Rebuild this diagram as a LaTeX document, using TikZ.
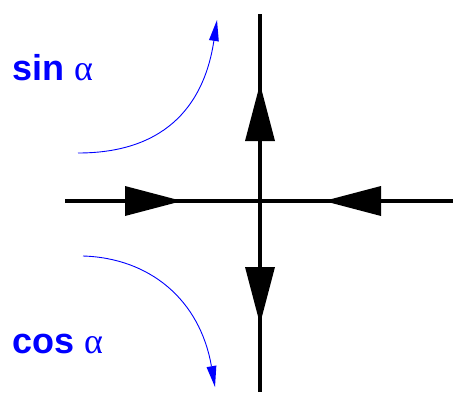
\documentclass[tikz,border=0pt]{standalone}
\usepackage{fontspec}
\setsansfont{Liberation Sans}
\newfontfamily\greekfont{Liberation Serif}
\usepackage{tikz}
\usetikzlibrary{arrows.meta}

\tikzset{
  axis/.style={line width=3.6pt},
  bigtip/.style={line width=3.6pt, -{Triangle[length=57pt, width=30pt, line width=0pt]}},
  turn/.style={blue, line width=0.9pt, -{Triangle[length=21pt, width=10pt, line width=0pt]}},
  lbl/.style={blue, anchor=base west, inner sep=0pt, font=\fontsize{36}{40}\selectfont}
}

\begin{document}
\begin{tikzpicture}[x=1pt, y=-1pt]
  \useasboundingbox (0,0) rectangle (453,392);

  \coordinate (O) at (260,201);
  \coordinate (L) at (65,201);
  \coordinate (R) at (453,201);
  \coordinate (T) at (260,14);
  \coordinate (B) at (260,392);
  % arrow tips on the axes
  \coordinate (tl) at (182,201);
  \coordinate (tr) at (324,201);
  \coordinate (tu) at (260,84);
  \coordinate (td) at (260,324);

  \draw[axis] (L) -- (R);
  \draw[axis] (T) -- (B);
  \foreach \a/\b in {L/tl, R/tr, O/tu, O/td}
    \draw[bigtip] (\a) -- (\b);

  \node (sin) [lbl] at (12,80)  {\sffamily\bfseries sin {\mdseries\greekfont α}};
  \node (cos) [lbl] at (12,353) {\sffamily\bfseries cos {\mdseries\greekfont α}};

  \coordinate (s0) at (78,153);
  \coordinate (s1) at (217,20);
  \coordinate (c0) at (83,256);
  \coordinate (c1) at (215,387);
  \draw[turn] (s0) .. controls (170,153) and (205,100) .. (s1);
  \draw[turn] (c0) .. controls (150,258) and (200,300) .. (c1);
\end{tikzpicture}
\end{document}
